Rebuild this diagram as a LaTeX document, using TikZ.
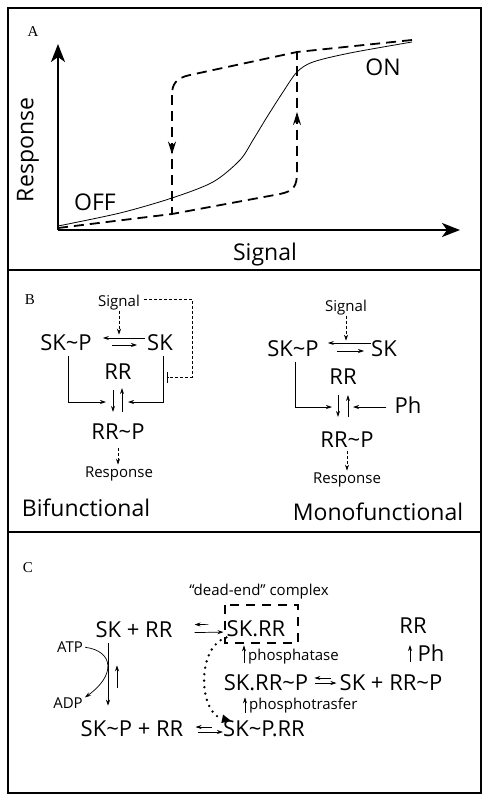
\documentclass[tikz,border=0pt]{standalone}
\usepackage{fontspec}
\setsansfont{Open Sans}
\newfontfamily\panelfont{Liberation Serif}
\usetikzlibrary{arrows.meta, positioning, decorations.markings}

\tikzset{
    big/.style={font=\sffamily\fontsize{22}{22}\selectfont, inner sep=0pt},
    huge/.style={font=\sffamily\fontsize{23}{23}\selectfont, inner sep=0pt},
    small/.style={font=\sffamily\fontsize{15}{15}\selectfont, inner sep=0pt},
    panel/.style={font=\panelfont\fontsize{15}{15}\selectfont, inner sep=0pt},
    frame/.style={line width=1.6pt},
    axis/.style={line width=2pt, -{Stealth[length=18pt, width=14pt, inset=5pt]}},
    hyst/.style={line width=1.8pt, dash pattern=on 10pt off 6pt},
    hystmark/.style={postaction={decorate}, decoration={markings,
        mark=at position 0.5 with {\arrow{Stealth[length=13pt, width=8pt]}}}},
    arr/.style={line width=0.7pt, -{Stealth[length=6pt, width=4pt]}},
    sigarr/.style={line width=0.7pt, dash pattern=on 3pt off 2pt, -{Stealth[length=6pt, width=4pt]}},
    inh/.style={line width=0.7pt, dash pattern=on 3pt off 2pt, -{Bar[width=11pt]}},
    dotarr/.style={line width=2.6pt, line cap=round, dash pattern=on 0pt off 6.5pt,
        -{Triangle[length=9pt, width=8pt]}},
    deadbox/.style={line width=1.6pt, dash pattern=on 9pt off 7pt},
}

\begin{document}
\begin{tikzpicture}[x=1pt, y=-1pt]
    \useasboundingbox (0,0) rectangle (490,803);

    % panel frames
    \draw[frame] (8,8) rectangle (481,270);
    \draw[frame] (8,270) rectangle (481,532);
    \draw[frame] (8,532) rectangle (481,793);

    % A: hysteresis
    \node[panel] (labA) at (33,32) {A};
    \coordinate (orig) at (58,230);
    \coordinate (ytip) at (58,44);
    \coordinate (xtip) at (460,230);
    \draw[axis] (orig) -- (ytip);
    \draw[axis] (orig) -- (xtip);
    \node[huge, rotate=90] (respA) at (28,150) {Response};
    \node[huge] (sigA) at (265,255) {Signal};
    \node[huge] (off) at (95,202) {OFF};
    \node[huge] (on) at (383,67) {ON};

    \draw[line width=0.8pt] plot[smooth] coordinates {(58,226) (120,213) (172,198)
        (213,182) (240,160) (253,140) (267,117) (283,92) (297,72) (313,62) (350,53) (412,42)};

    \draw[hyst] (58,228) -- (172,214) -- (280,194) .. controls (294,191) and (297,186) .. (297,172);
    \draw[hyst, hystmark] (297,172) -- (297,52);
    \draw[hyst] (412,40) -- (297,52) -- (190,75) .. controls (176,78) and (172,84) .. (172,95);
    \draw[hyst, hystmark] (172,95) -- (172,214);

    % B: bifunctional
    \node[panel] (labB) at (30,300) {B};
    \node[small] (sigL) at (119,303) {Signal};
    \node[big] (skpL) at (66,343) {SK\textasciitilde P};
    \node[big] (skL) at (160,343) {SK};
    \node[big] (rrL) at (118,372) {RR};
    \node[big] (rrpL) at (118,432) {RR\textasciitilde P};
    \node[small] (respL) at (119,474) {Response};
    \node[huge] (bif) at (86,508) {Bifunctional};

    \draw[sigarr] (sigL.south) -- (sigL.south |- skL.north);
    \draw[arr, shorten <=2pt, shorten >=11pt] ([yshift=5pt]skL.west) -- ([yshift=5pt]skpL.east);
    \draw[arr, shorten <=20pt, shorten >=10pt] ([yshift=-2pt]skpL.east) -- ([yshift=-2pt]skL.west);
    \coordinate (inhC) at (192,377);
    \coordinate (inhE) at (167,377);
    \draw[inh, shorten <=4pt] ([yshift=4pt]sigL.east) -| (inhC) -- (inhE);
    \coordinate (jL) at (106,402);
    \coordinate (jR) at (128,402);
    \draw[arr, shorten <=5pt] ([xshift=2pt]skpL.south) |- (jL);
    \draw[arr, shorten <=5pt] ([xshift=3pt]skL.south) |- (jR);
    \draw[arr, shorten <=10pt, shorten >=12pt] ([xshift=-5pt]rrL.south) -- ([xshift=-5pt]rrL.south |- rrpL.north);
    \draw[arr, shorten <=12pt, shorten >=8pt] ([xshift=4pt]rrL.south |- rrpL.north) -- ([xshift=4pt]rrL.south);
    \draw[sigarr, shorten <=8pt, shorten >=2pt] (rrpL.south) -- (rrpL.south |- respL.north);

    % B: monofunctional
    \node[small] (sigR) at (346,308) {Signal};
    \node[big] (skpR) at (293,349) {SK\textasciitilde P};
    \node[big] (skR) at (384,349) {SK};
    \node[big] (rrR) at (343,377) {RR};
    \node[big] (rrpR) at (347,440) {RR\textasciitilde P};
    \node[big] (phR) at (408,405) {Ph};
    \node[small] (respR) at (347,480) {Response};
    \node[huge] (mono) at (378,512) {Monofunctional};

    \draw[sigarr] (sigR.south) -- (sigR.south |- skR.north);
    \draw[arr, shorten <=0pt, shorten >=9pt] ([yshift=6pt]skR.west) -- ([yshift=6pt]skpR.east);
    \draw[arr, shorten <=18pt, shorten >=7pt] ([yshift=-2pt]skpR.east) -- ([yshift=-2pt]skR.west);
    \coordinate (jL2) at (332,407);
    \coordinate (jPh) at (353,407);
    \draw[arr, shorten <=5pt] ([xshift=2pt]skpR.south) |- (jL2);
    \draw[arr, shorten <=8pt] (phR.west |- jPh) -- (jPh);
    \draw[arr, shorten <=10pt, shorten >=15pt] ([xshift=-5pt]rrR.south) -- ([xshift=-5pt]rrR.south |- rrpR.north);
    \draw[arr, shorten <=15pt, shorten >=10pt] ([xshift=5pt]rrR.south |- rrpR.north) -- ([xshift=5pt]rrR.south);
    \draw[sigarr, shorten <=3pt, shorten >=2pt] (rrpR.south) -- (rrpR.south |- respR.north);

    % C: dead-end complex
    \node[panel] (labC) at (28,568) {C};
    \node[big] (skrr) at (134,630) {SK + RR};
    \node[big] (skdrr) at (256,629) {SK.RR};
    \node[small] (dead) at (259,592) {“dead-end” complex};
    \draw[deadbox] (225,605) rectangle (298,643);
    \node[big] (skdrrp) at (266,683) {SK.RR\textasciitilde P};
    \node[big] (skrrp) at (391,683) {SK + RR\textasciitilde P};
    \node[big] (skprr) at (132,729) {SK\textasciitilde P + RR};
    \node[big] (skpdrr) at (264,729) {SK\textasciitilde P.RR};
    \node[big] (rrC) at (413,626) {RR};
    \node[big] (phC) at (431,653) {Ph};
    \node[small] (atp) at (70,647) {ATP};
    \node[small] (adp) at (68,703) {ADP};
    \node[small, anchor=west] (phos) at (248,657) {phosphatase};
    \node[small, anchor=west] (trans) at (249,706) {phosphotrasfer};

    \draw[arr, shorten <=18pt, shorten >=22pt] ([yshift=5pt]skdrr.west) -- ([yshift=5pt]skrr.east);
    \draw[arr, shorten <=22pt, shorten >=3pt] ([yshift=-3pt]skrr.east) -- ([yshift=-3pt]skdrr.west);
    \draw[arr, shorten <=11pt, shorten >=12pt] ([yshift=2pt]skpdrr.west) -- ([yshift=2pt]skprr.east);
    \draw[arr, shorten <=14pt, shorten >=0pt] ([yshift=-3pt]skprr.east) -- ([yshift=-3pt]skpdrr.west);
    \draw[arr, shorten <=8pt, shorten >=6pt] ([yshift=5pt]skrrp.west) -- ([yshift=5pt]skdrrp.east);
    \draw[arr, shorten <=7pt, shorten >=3pt] (skdrrp.east) -- (skrrp.west);

    \draw[arr, shorten <=5pt, shorten >=15pt] ([xshift=-26pt]skrr.south) -- ([xshift=-26pt]skrr.south |- skprr.north);
    \draw[arr, shorten <=33pt, shorten >=27pt] ([xshift=-17pt]skrr.south |- skprr.north) -- ([xshift=-17pt]skrr.south);
    \draw[line width=0.7pt, -{Stealth[length=6pt, width=4pt]}, shorten <=2pt]
        (atp.east) .. controls +(31,4) and +(31,-22) .. ([xshift=2pt]adp.north east);
    \draw[dotarr] (skdrr.south west) to[bend right=75] ([xshift=8pt]skpdrr.north west);

    \draw[arr, shorten <=12pt, shorten >=8pt] ([xshift=-22pt]skdrrp.north) -- ([xshift=-22pt]skdrrp.north |- skdrr.south);
    \draw[arr, shorten <=8pt, shorten >=6pt] ([xshift=-21pt]skdrrp.south |- skpdrr.north) -- ([xshift=-21pt]skdrrp.south);
    \draw[arr, shorten >=11pt] ([xshift=-3pt]rrC.south |- phC.south) -- ([xshift=-3pt]rrC.south);
\end{tikzpicture}
\end{document}
